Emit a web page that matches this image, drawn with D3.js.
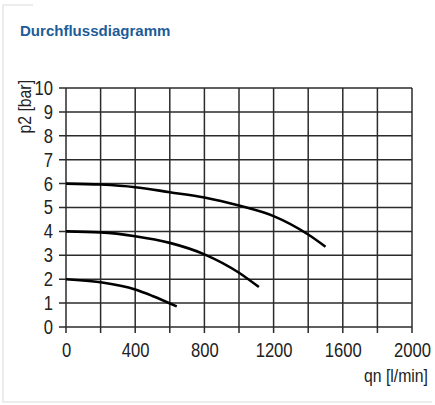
<!DOCTYPE html>
<html>
<head>
<meta charset="utf-8">
<script src="https://cdn.jsdelivr.net/npm/d3@7"></script>
<style>
  body { margin: 0; background: #fff; }
  svg text { font-family: "Liberation Sans", Arial, sans-serif; fill: #222; }
</style>
</head>
<body>
<svg id="svg"></svg>
<script>
// data
let xTicks = [0, 400, 800, 1200, 1600, 2000]
let yTicks = [0, 1, 2, 3, 4, 5, 6, 7, 8, 9, 10]
let qn6 = [0, 200, 400, 600, 800, 1000, 1200, 1400, 1500]
let p6 = [6, 5.96, 5.85, 5.64, 5.42, 5.08, 4.64, 3.87, 3.36]
let qn4 = [0, 200, 400, 600, 800, 1000, 1115]
let p4 = [4, 3.96, 3.8, 3.52, 3.04, 2.27, 1.67]
let qn2 = [0, 200, 400, 500, 640]
let p2 = [2, 1.87, 1.57, 1.3, 0.86]

let width = 435, height = 405
let margin = {top: 88, left: 66, bottom: 78, right: 23}
let svg = d3.select('#svg').attr('width', width).attr('height', height)

//squeeze text horizontally (condensed look)
let narrow = (sel, k) => sel.each(function () {
    let w = this.getComputedTextLength()
    this.setAttribute('textLength', w * k)
    this.setAttribute('lengthAdjust', 'spacingAndGlyphs')
})

// faint panel frame
svg.append('path')
   .attr('d', `M33,5 H3 V402 H432`)
   .attr('fill', 'none').attr('stroke', '#e6e6e6').attr('stroke-width', 1.5)

svg.append('text')
   .attr('x', 20).attr('y', 36)
   .style('font-weight', 'bold').style('font-size', '15.5px')
   .style('fill', '#1d5c98')
   .text('Durchflussdiagramm')
   .call(narrow, 0.97)

let xScale = d3.scaleLinear().domain([0, 2000]).range([margin.left, width - margin.right])
let yScale = d3.scaleLinear().domain([0, 10]).range([height - margin.bottom, margin.top])

//grid
let grid = svg.append('g').attr('stroke', '#2b2b2b').attr('stroke-width', 1.5)
grid.selectAll('.vg').data(d3.range(0, 2001, 200)).enter().append('line')
    .attr('x1', d => xScale(d)).attr('x2', d => xScale(d))
    .attr('y1', yScale(10)).attr('y2', yScale(0) + 6)
grid.selectAll('.hg').data(yTicks).enter().append('line')
    .attr('x1', xScale(0) - 7).attr('x2', xScale(2000))
    .attr('y1', d => yScale(d)).attr('y2', d => yScale(d))

//axes labels
let xAxis = d3.axisBottom(xScale).tickValues(xTicks).tickFormat(d3.format('d')).tickSize(0).tickPadding(16)
let xg = svg.append('g').attr('transform', `translate(0,${yScale(0)})`).call(xAxis)
xg.select('.domain').remove()
xg.selectAll('text').style('font-size', '20px').style('fill', '#222').style('font-family', null).call(narrow, 0.83)

let yAxis = d3.axisLeft(yScale).tickValues(yTicks).tickSize(0).tickPadding(13)
let yg = svg.append('g').attr('transform', `translate(${xScale(0)},0)`).call(yAxis)
yg.select('.domain').remove()
yg.selectAll('text').style('font-size', '20px').style('fill', '#222').call(narrow, 0.83)
svg.selectAll('.tick').attr('font-family', null)

svg.append('text')
   .attr('transform', `translate(31,80) rotate(-90)`)
   .attr('text-anchor', 'end')
   .style('font-size', '19px')
   .text('p2 [bar]')
   .call(narrow, 0.83)

svg.append('text')
   .attr('x', 428).attr('y', 382)
   .attr('text-anchor', 'end')
   .style('font-size', '19px')
   .text('qn [l/min]')
   .call(narrow, 0.83)

//curves
let line = d3.line().x(d => xScale(d[0])).y(d => yScale(d[1])).curve(d3.curveMonotoneX)
let curves = [d3.zip(qn6, p6), d3.zip(qn4, p4), d3.zip(qn2, p2)]
svg.append('g').selectAll('path').data(curves).enter().append('path')
   .attr('d', line)
   .attr('fill', 'none').attr('stroke', '#000').attr('stroke-width', 2.6)
</script>
</body>
</html>
